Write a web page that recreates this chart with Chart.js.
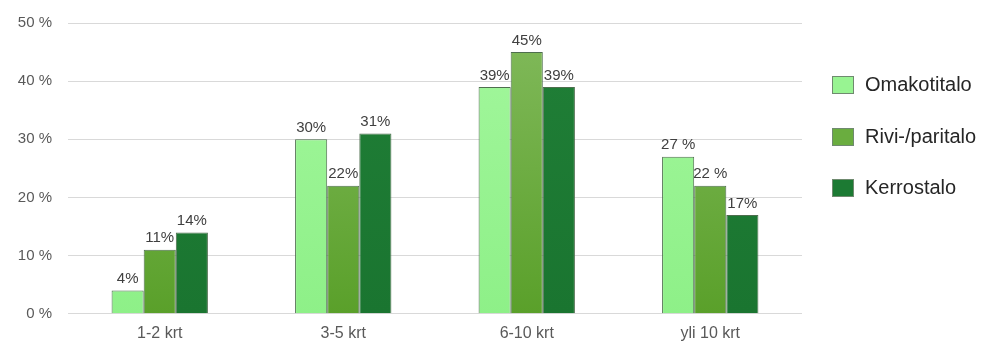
<!DOCTYPE html>
<html>
<head>
<meta charset="utf-8">
<script src="https://cdn.jsdelivr.net/npm/chart.js@4.4.0/dist/chart.umd.min.js"></script>
<style>
  html, body { margin: 0; padding: 0; background: #fff; }
  #wrap { width: 982px; height: 346px; position: relative; }
</style>
</head>
<body>
<div id="wrap"><canvas id="chart"></canvas></div>
<script>
// käyntikerrat asumismuodon mukaan
const categories = ["1-2 krt", "3-5 krt", "6-10 krt", "yli 10 krt"];
const seriesNames = ["Omakotitalo", "Rivi-/paritalo", "Kerrostalo"];

const omakotitalo = [4, 30, 39, 27];
const rivitalo = [11, 22, 45, 22];
const kerrostalo = [14, 31, 39, 17];

const omakotitaloLabels = ["4%", "30%", "39%", "27 %"];
const rivitaloLabels = ["11%", "22%", "45%", "22 %"];
const kerrostaloLabels = ["14%", "31%", "39%", "17%"];

const yTicks = [0, 10, 20, 30, 40, 50];

const FONT = "'Liberation Sans', Arial, sans-serif";

// värit: ylä- ja alapään sävy liukuvärille
const fills = [
  ["#a3f79d", "#8ef088"],
  ["#82ba5c", "#5aa02a"],
  ["#207f37", "#1a7530"]
];
const swatches = ["#98f492", "#6aad3f", "#1c7a33"];

function gradientFor(i) {
  return (ctx) => {
    const area = ctx.chart.chartArea;
    if (!area) return fills[i][1];
    const g = ctx.chart.ctx.createLinearGradient(0, area.top, 0, area.bottom);
    g.addColorStop(0, fills[i][0]);
    g.addColorStop(1, fills[i][1]);
    return g;
  };
}

// arvot pylväiden yläpuolelle
const valueLabels = {
  id: "valueLabels",
  afterDatasetsDraw(chart) {
    const ctx = chart.ctx;
    ctx.save();
    ctx.font = "15px " + FONT;
    ctx.fillStyle = "#404040";
    ctx.textAlign = "center";
    ctx.textBaseline = "bottom";
    chart.data.datasets.forEach((ds, i) => {
      chart.getDatasetMeta(i).data.forEach((bar, j) => {
        ctx.fillText(ds.valueText[j], bar.x, bar.y - 4);
      });
    });
    ctx.restore();
  }
};

// selite oikealle
const sideLegend = {
  id: "sideLegend",
  afterDraw(chart) {
    const ctx = chart.ctx;
    const x = chart.chartArea.right + 30;
    const rows = [85, 137, 188];
    ctx.save();
    ctx.font = "20px " + FONT;
    ctx.textBaseline = "middle";
    seriesNames.forEach((name, i) => {
      ctx.fillStyle = swatches[i];
      ctx.fillRect(x, rows[i] - 9, 22, 18);
      ctx.strokeStyle = "#6f8a6f";
      ctx.lineWidth = 1;
      ctx.strokeRect(x + 0.5, rows[i] - 8.5, 21, 17);
      ctx.fillStyle = "#262626";
      ctx.fillText(name, x + 33, rows[i]);
    });
    ctx.restore();
  }
};

new Chart(document.getElementById("chart"), {
  type: "bar",
  data: {
    labels: categories,
    datasets: [
      { label: seriesNames[0], data: omakotitalo, valueText: omakotitaloLabels, backgroundColor: gradientFor(0) },
      { label: seriesNames[1], data: rivitalo, valueText: rivitaloLabels, backgroundColor: gradientFor(1) },
      { label: seriesNames[2], data: kerrostalo, valueText: kerrostaloLabels, backgroundColor: gradientFor(2) }
    ].map(ds => Object.assign(ds, {
      borderColor: "#4e6e4e",
      borderWidth: 1,
      categoryPercentage: 0.525,
      barPercentage: 1
    }))
  },
  options: {
    responsive: true,
    maintainAspectRatio: false,
    animation: false,
    layout: { padding: { left: 0, right: 180, top: 23, bottom: 1 } },
    plugins: {
      legend: { display: false },
      tooltip: { enabled: false }
    },
    scales: {
      x: {
        grid: { display: false },
        border: { display: false },
        ticks: {
          color: "#595959",
          font: { family: FONT, size: 16 },
          padding: 2
        }
      },
      y: {
        min: 0,
        max: 50,
        afterBuildTicks(axis) { axis.ticks = yTicks.map(v => ({ value: v })); },
        afterFit(axis) {
          axis.width = 68;
          axis.paddingTop = 0;
          axis.paddingBottom = 0;
        },
        grid: { color: "#d9d9d9", lineWidth: 1, drawTicks: false },
        border: { display: false },
        ticks: {
          color: "#595959",
          padding: 16,
          font: { family: FONT, size: 15 },
          callback: v => v + " %"
        }
      }
    }
  },
  plugins: [valueLabels, sideLegend]
});
</script>
</body>
</html>
